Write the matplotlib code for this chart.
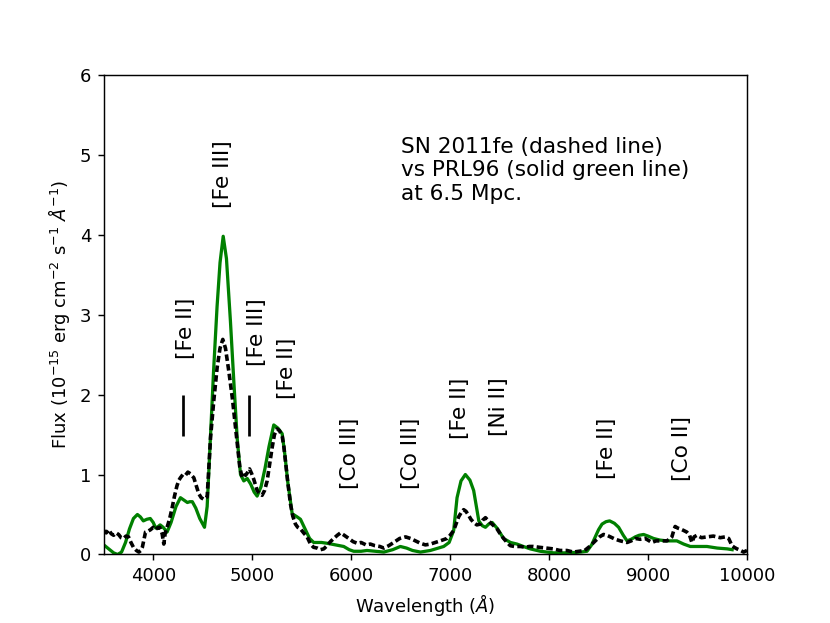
import matplotlib
matplotlib.use("Agg")
import matplotlib.pyplot as plt

# SN 2011fe observed spectrum (dashed black)
sn_wave = [3500, 3525, 3550, 3575, 3600, 3625, 3650, 3675, 3700, 3725, 3750, 3775,
           3800, 3830, 3855, 3875, 3890, 3905, 3922, 3945, 3973, 4000, 4020, 4040,
           4065, 4090, 4107, 4120, 4150, 4170, 4192, 4215, 4240, 4260, 4275, 4300,
           4325, 4350, 4375, 4395, 4410, 4435, 4460, 4485, 4511, 4545, 4579, 4610,
           4646, 4675, 4703, 4730, 4764, 4800, 4831, 4855, 4875, 4899, 4915, 4933,
           4950, 4973, 4995, 5016, 5035, 5050, 5075, 5100, 5125, 5151, 5175, 5202,
           5225, 5252, 5275, 5303, 5320, 5336, 5360, 5387, 5410, 5437, 5460, 5488,
           5520, 5555, 5589, 5620, 5656, 5690, 5723, 5757, 5790, 5824, 5860, 5892,
           5930, 5976, 6020, 6060, 6100, 6150, 6194, 6240, 6290, 6330, 6380, 6430,
           6490, 6550, 6600, 6650, 6700, 6750, 6800, 6851, 6900, 6968, 7000, 7036,
           7060, 7086, 7110, 7137, 7160, 7187, 7210, 7238, 7270, 7305, 7330, 7357,
           7380, 7406, 7440, 7474, 7505, 7541, 7575, 7608, 7650, 7710, 7760, 7800,
           7840, 7900, 7975, 8040, 8110, 8180, 8245, 8300, 8360, 8410, 8467, 8510,
           8550, 8585, 8619, 8670, 8720, 8788, 8830, 8871, 8920, 8972, 9039, 9080,
           9124, 9190, 9215, 9241, 9260, 9274, 9300, 9325, 9360, 9392, 9420, 9443,
           9465, 9494, 9540, 9595, 9660, 9730, 9780, 9815, 9848, 9870, 9899, 9935,
           9966, 10000]
sn_flux = [0.30, 0.27, 0.31, 0.26, 0.24, 0.27, 0.25, 0.21, 0.20, 0.23, 0.22, 0.15,
           0.09, 0.05, 0.03, 0.05, 0.09, 0.18, 0.28, 0.29, 0.31, 0.34, 0.31, 0.33,
           0.34, 0.26, 0.13, 0.26, 0.38, 0.47, 0.59, 0.73, 0.86, 0.93, 0.96, 1.00,
           0.99, 1.03, 1.01, 0.98, 0.96, 0.86, 0.76, 0.71, 0.69, 0.72, 1.46, 1.90,
           2.34, 2.58, 2.69, 2.58, 2.29, 1.95, 1.59, 1.30, 1.09, 0.96, 0.99, 0.99,
           1.02, 1.07, 1.01, 0.94, 0.86, 0.80, 0.76, 0.74, 0.80, 0.92, 1.12, 1.34,
           1.50, 1.57, 1.55, 1.48, 1.35, 1.17, 0.90, 0.63, 0.48, 0.38, 0.34, 0.32,
           0.27, 0.22, 0.13, 0.09, 0.08, 0.06, 0.07, 0.11, 0.16, 0.20, 0.24, 0.27,
           0.24, 0.20, 0.16, 0.14, 0.15, 0.12, 0.13, 0.11, 0.10, 0.08, 0.11, 0.15,
           0.20, 0.22, 0.20, 0.17, 0.14, 0.12, 0.13, 0.15, 0.17, 0.20, 0.24, 0.30,
           0.38, 0.47, 0.52, 0.56, 0.54, 0.49, 0.44, 0.40, 0.37, 0.38, 0.43, 0.46,
           0.43, 0.40, 0.36, 0.32, 0.26, 0.20, 0.15, 0.11, 0.10, 0.10, 0.09, 0.10,
           0.10, 0.09, 0.08, 0.07, 0.05, 0.05, 0.03, 0.04, 0.05, 0.10, 0.17, 0.22,
           0.25, 0.24, 0.22, 0.19, 0.17, 0.15, 0.17, 0.20, 0.19, 0.20, 0.15, 0.17,
           0.17, 0.17, 0.19, 0.22, 0.30, 0.35, 0.33, 0.32, 0.30, 0.28, 0.24, 0.15,
           0.22, 0.24, 0.21, 0.22, 0.23, 0.21, 0.22, 0.20, 0.11, 0.09, 0.07, 0.05,
           0.03, 0.05]

# PRL96 model spectrum (solid green)
model_wave = [3500, 3550, 3600, 3640, 3680, 3720, 3760, 3800, 3840, 3870, 3900, 3935,
              3970, 4000, 4025, 4050, 4070, 4100, 4140, 4180, 4230, 4275, 4310, 4345,
              4370, 4395, 4430, 4470, 4518, 4545, 4580, 4610, 4645, 4675, 4707, 4740,
              4780, 4815, 4848, 4882, 4915, 4950, 4985, 5020, 5050, 5090, 5130, 5170,
              5218, 5260, 5303, 5330, 5360, 5404, 5454, 5488, 5530, 5580, 5622, 5700,
              5757, 5840, 5925, 5980, 6026, 6100, 6160, 6250, 6330, 6420, 6497, 6560,
              6620, 6700, 6800, 6880, 6935, 6990, 7036, 7070, 7110, 7154, 7200, 7238,
              7265, 7290, 7325, 7357, 7390, 7425, 7480, 7540, 7610, 7676, 7740, 7810,
              7912, 8046, 8200, 8320, 8383, 8430, 8467, 8500, 8535, 8575, 8612, 8660,
              8703, 8750, 8788, 8830, 8871, 8910, 8955, 9000, 9056, 9120, 9190, 9240,
              9291, 9360, 9427, 9500, 9595, 9700, 9800, 9850]
model_flux = [0.12, 0.07, 0.02, 0.00, 0.03, 0.15, 0.32, 0.45, 0.50, 0.47, 0.42, 0.44,
              0.45, 0.40, 0.33, 0.35, 0.37, 0.34, 0.28, 0.40, 0.60, 0.71, 0.68, 0.65,
              0.66, 0.66, 0.58, 0.45, 0.34, 0.60, 1.50, 2.30, 3.10, 3.65, 3.98, 3.70,
              2.92, 2.15, 1.46, 1.00, 0.92, 0.95, 0.88, 0.78, 0.73, 0.85, 1.08, 1.35,
              1.62, 1.58, 1.51, 1.25, 0.90, 0.51, 0.47, 0.44, 0.33, 0.20, 0.15, 0.15,
              0.14, 0.12, 0.10, 0.06, 0.04, 0.04, 0.05, 0.04, 0.03, 0.06, 0.10, 0.08,
              0.05, 0.03, 0.05, 0.08, 0.10, 0.15, 0.30, 0.71, 0.92, 1.00, 0.93, 0.80,
              0.60, 0.42, 0.36, 0.34, 0.38, 0.40, 0.32, 0.20, 0.15, 0.13, 0.10, 0.07,
              0.04, 0.02, 0.02, 0.03, 0.04, 0.12, 0.22, 0.31, 0.38, 0.41, 0.42, 0.39,
              0.34, 0.24, 0.17, 0.19, 0.22, 0.24, 0.25, 0.23, 0.20, 0.18, 0.17, 0.17,
              0.17, 0.13, 0.10, 0.10, 0.10, 0.08, 0.07, 0.06]

# line identifications: label, wavelength, bottom of text
line_names = ["[Fe II]", "[Fe III]", "[Fe III]", "[Fe II]", "[Co III]", "[Co III]",
              "[Fe II]", "[Ni II]", "[Fe II]", "[Co II]"]
line_x = [4330, 4700, 5050, 5350, 5990, 6600, 7095, 7490, 8585, 9345]
line_y = [2.44, 4.33, 2.36, 1.95, 0.82, 0.82, 1.45, 1.48, 0.95, 0.92]

# short marker bars
bar_x = [4300, 4970]
bar_lo = 1.48
bar_hi = 2.0

fig = plt.figure(figsize=(8.3 / 1.3, 6.23 / 1.3), dpi=130)
ax = fig.add_subplot(111)

ax.plot(model_wave, model_flux, color="green", lw=1.8)
ax.plot(sn_wave, sn_flux, color="black", lw=2.0, ls=(0, (1.8, 0.9)))

for name, x, y in zip(line_names, line_x, line_y):
    ax.text(x, y, name, rotation=90, ha="center", va="bottom", fontsize=12)

ax.vlines(bar_x, bar_lo, bar_hi, color="black", lw=1.5)

ax.text(6500, 5.22, "SN 2011fe (dashed line)\nvs PRL96 (solid green line)\nat 6.5 Mpc.",
        fontsize=12, va="top", ha="left")

ax.set_xlim(3500, 10000)
ax.set_ylim(0, 6)
ax.set_xlabel(r"Wavelength ($\AA$)")
ax.set_ylabel(r"Flux (10$^{-15}$ erg cm$^{-2}$ s$^{-1}$ $\AA^{-1}$)")

fig.savefig("out.png", dpi=130)
